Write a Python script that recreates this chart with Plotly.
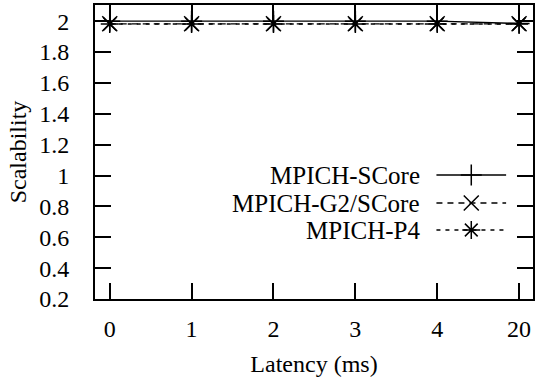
import plotly.graph_objects as go

latency_labels = ["0", "1", "2", "3", "4", "20"]
score = [2.0, 2.0, 2.0, 2.0, 2.0, 1.985]
g2_score = [1.983, 1.983, 1.983, 1.983, 1.983, 1.983]
p4 = [1.982, 1.982, 1.982, 1.982, 1.982, 1.982]
y_ticks = [0.2, 0.4, 0.6, 0.8, 1.0, 1.2, 1.4, 1.6, 1.8, 2.0]
y_tick_text = ["0.2", "0.4", "0.6", "0.8", "1", "1.2", "1.4", "1.6", "1.8", "2"]

series = [
    ("MPICH-SCore", score, "solid", "cross-thin-open"),
    ("MPICH-G2/SCore", g2_score, "6px,5px", "x-thin-open"),
    ("MPICH-P4", p4, "4px,5px", "asterisk-open"),
]

FONT = "Liberation Serif"
FS = 24
W, H = 535, 381
L, R, T, B = 95, 0, 5, 82

xs = list(range(len(latency_labels)))
fig = go.Figure()
for name, vals, dash, sym in series:
    fig.add_trace(go.Scatter(
        x=xs, y=vals, mode="lines+markers", name=name, showlegend=False,
        line=dict(color="black", width=1.3, dash=dash),
        marker=dict(symbol=sym, size=15, color="black", line=dict(color="black", width=1.5)),
        cliponaxis=False,
    ))

key_rows_px = [175, 203, 230]
text_right_px = 423
sample_l_px, sample_r_px = 438, 508
pw, ph = W - L - R, H - T - B
for (name, vals, dash, sym), ypx in zip(series, key_rows_px):
    yp = (H - B - ypx) / ph
    x0 = (sample_l_px - L) / pw
    x1 = (sample_r_px - L) / pw
    fig.add_trace(go.Scatter(
        x=[x0, (x0 + x1) / 2, x1], y=[yp, yp, yp], xaxis="x2", yaxis="y2",
        mode="lines", showlegend=False, hoverinfo="skip",
        line=dict(color="black", width=1.3, dash=dash),
    ))
    fig.add_trace(go.Scatter(
        x=[(x0 + x1) / 2], y=[yp], xaxis="x2", yaxis="y2",
        mode="markers", showlegend=False, hoverinfo="skip",
        marker=dict(symbol=sym, size=15, color="black", line=dict(color="black", width=1.5)),
    ))
    fig.add_annotation(
        x=(text_right_px - L) / pw, y=yp, xref="paper", yref="paper",
        text=name, showarrow=False, xanchor="right", yanchor="middle",
        font=dict(family=FONT, size=25, color="black"),
    )

fig.update_layout(
    width=W, height=H,
    margin=dict(l=L, r=R, t=T, b=B),
    paper_bgcolor="white", plot_bgcolor="white",
    font=dict(family=FONT, size=FS, color="black"),
    xaxis=dict(
        range=[-0.18, 5.17], tickvals=xs, ticktext=latency_labels,
        ticks="inside", ticklen=16, tickwidth=2, tickcolor="black",
        showline=True, linewidth=2, linecolor="black", mirror="allticks",
        showgrid=False, zeroline=False, ticklabelstandoff=7,
        tickfont=dict(family=FONT, size=FS),
        title=dict(text="Latency (ms)", font=dict(family=FONT, size=FS), standoff=14),
    ),
    yaxis=dict(
        range=[0.2, 2.105], tickvals=y_ticks, ticktext=y_tick_text,
        ticksuffix="\u00a0\u200a",
        ticks="inside", ticklen=16, tickwidth=2, tickcolor="black",
        showline=True, linewidth=2, linecolor="black", mirror="ticks",
        showgrid=False, zeroline=False, ticklabelstandoff=19,
        tickfont=dict(family=FONT, size=FS),
        title=dict(text="Scalability", font=dict(family=FONT, size=FS), standoff=6),
    ),
    xaxis2=dict(domain=[0, 1], range=[0, 1], overlaying="x", anchor="y2", visible=False),
    yaxis2=dict(domain=[0, 1], range=[0, 1], overlaying="y", anchor="x2", visible=False),
)

fig.write_html("out.html")
